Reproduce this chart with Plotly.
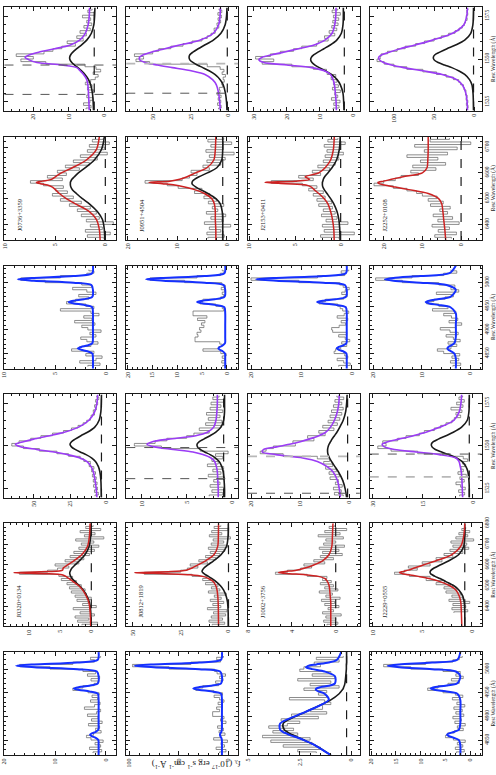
import plotly.graph_objects as go

# ---------------------------------------------------------------- wavelength grids
CIV_WAVE_FIT = [1520, 1525, 1530, 1535, 1538, 1541, 1543, 1545, 1546.5, 1548, 1549.5,
                1551, 1552.5, 1554, 1556, 1558, 1561, 1565, 1570, 1575, 1580]
CIV_WAVE_DATA = [1520.75, 1522.25, 1523.75, 1525.25, 1526.75, 1528.25, 1529.75, 1531.25,
                 1532.75, 1534.25, 1535.75, 1537.25, 1538.75, 1540.25, 1541.75, 1543.25,
                 1544.75, 1546.25, 1547.75, 1549.25, 1550.75, 1552.25, 1553.75, 1555.25,
                 1556.75, 1558.25, 1559.75, 1561.25, 1562.75, 1564.25, 1565.75, 1567.25,
                 1568.75, 1570.25, 1571.75, 1573.25, 1574.75, 1576.25, 1577.75, 1579.25]
HB_WAVE_FIT = [4818, 4840, 4850, 4855, 4858, 4861, 4864, 4867, 4872, 4885, 4910, 4935, 4948,
               4953, 4956, 4959, 4962, 4965, 4970, 4985, 4995, 5000, 5004, 5007, 5010, 5014,
               5020, 5036]
HB_WAVE_DATA = [4822.5, 4827.5, 4832.5, 4837.5, 4842.5, 4847.5, 4852.5, 4857.5, 4862.5,
                4867.5, 4872.5, 4877.5, 4882.5, 4887.5, 4892.5, 4897.5, 4902.5, 4907.5,
                4912.5, 4917.5, 4922.5, 4927.5, 4932.5, 4937.5, 4942.5, 4947.5, 4952.5,
                4957.5, 4962.5, 4967.5, 4972.5, 4977.5, 4982.5, 4987.5, 4992.5, 4997.5,
                5002.5, 5007.5, 5012.5, 5017.5, 5022.5, 5027.5]
HA_WAVE_FIT = [6305, 6380, 6420, 6450, 6480, 6500, 6520, 6535, 6545, 6553, 6558, 6563, 6568,
               6575, 6585, 6600, 6620, 6650, 6690, 6740, 6800]
HA1_WAVE_DATA = [6310, 6320, 6330, 6340, 6350, 6360, 6370, 6380, 6390, 6400, 6410, 6420, 6430,
                 6440, 6450, 6460, 6470, 6480, 6490, 6500, 6510, 6520, 6530, 6540, 6550, 6560,
                 6570, 6580, 6590, 6600, 6610, 6620, 6630, 6640, 6650, 6660, 6670, 6680, 6690,
                 6700, 6710, 6720, 6730, 6740, 6750, 6760, 6770, 6780, 6790]
HA2_WAVE_DATA = [6345, 6355, 6365, 6375, 6385, 6395, 6405, 6415, 6425, 6435, 6445, 6455, 6465,
                 6475, 6485, 6495, 6505, 6515, 6525, 6535, 6545, 6555, 6565, 6575, 6585, 6595,
                 6605, 6615, 6625, 6635, 6645, 6655, 6665, 6675, 6685, 6695, 6705, 6715, 6725,
                 6735]

# ---------------------------------------------------------------- C IV
J0736_CIV_FIT = [4.3, 4.4, 4.5, 4.7, 5.0, 5.9, 6.8, 7.8, 12, 19, 21.2, 22.3, 21, 18.5, 14, 9.8,
                 7.0, 5.4, 4.6, 4.3, 4.2]
J0736_CIV_BROAD = [3.1, 3.2, 3.4, 3.9, 4.5, 5.5, 6.4, 7.5, 8.4, 9.2, 9.7, 9.8, 9.5, 8.9, 7.8,
                   6.6, 5.0, 3.7, 3.0, 2.8, 2.7]
J0736_CIV_DATA = [5.2, 3.8, 5.9, 4.1, 3.2, 5.0, 4.6, 3.0, 4.8, 3.5, 5.4, 3.9, 2.6, 1.8, 3.2, 1.1,
                  2.4, 5.5, 16.5, 23.5, 20.0, 24.8, 17.0, 14.5, 12.0, 8.2, 10.5, 6.0, 7.8, 5.1,
                  6.9, 4.0, 5.8, 3.6, 5.0, 3.9, 6.2, 2.8, 4.7, 3.5]

J0951_CIV_FIT = [5.4, 5.8, 6.5, 8.0, 10.5, 15.5, 24, 37, 47, 55, 58.5, 58.7, 56, 51, 42, 33, 19,
                 10, 6.5, 5.6, 5.3]
J0951_CIV_BROAD = [1.0, 1.3, 2.0, 3.5, 5.5, 9, 12.5, 17, 20.5, 23.5, 25.5, 26, 25.5, 23.5, 20,
                   16, 10, 5, 2.2, 1.3, 1.0]
J0951_CIV_DATA = [6.5, 4.8, 7.2, 5.1, 6.8, 4.9, 7.5, 5.6, 6.0, 3.9, 4.5, 2.8, 3.5, 2.0, 4.2, 3.0,
                  5.5, 14, 52, 61, 56, 62, 50, 46, 38, 30, 24, 17.5, 14, 11.5, 8.8, 9.5, 6.4,
                  7.6, 5.2, 6.9, 4.6, 7.0, 4.4, 6.2]

J2153_CIV_FIT = [5.0, 5.1, 5.3, 5.6, 6.0, 6.8, 8.5, 12.5, 20, 27, 28.5, 27.5, 24.5, 21, 16.5, 12,
                 8.5, 6.3, 5.5, 5.2, 5.1]
J2153_CIV_BROAD = [2.7, 2.8, 3.0, 3.8, 4.8, 6.5, 8.2, 10.2, 11.5, 12.4, 12.8, 12.6, 11.8, 10.6,
                   8.8, 7.0, 4.9, 3.5, 3.0, 2.9, 2.9]
J2153_CIV_DATA = [6.0, 4.2, 5.8, 3.9, 6.5, 4.6, 5.5, 3.8, 6.2, 4.4, 5.9, 4.8, 6.6, 5.2, 7.8, 8.0,
                  12.0, 18.5, 27.5, 24.0, 29.5, 25.0, 22.0, 18.0, 15.5, 11.0, 10.5, 7.5, 8.6,
                  5.5, 7.2, 4.9, 6.4, 4.5, 6.1, 4.3, 5.9, 3.8, 6.3, 4.6]

J2252_CIV_FIT = [8.5, 9, 10.5, 15, 22, 40, 62, 88, 103, 113, 118, 119, 115, 106, 92, 75, 52, 27,
                 13, 9.5, 8.5]
J2252_CIV_BROAD = [1.0, 1.2, 1.6, 3, 6, 12, 19, 28, 37, 45, 50, 51, 49, 43, 34, 24, 12, 4.5,
                   1.8, 1.2, 1.0]
J2252_CIV_DATA = [9.5, 7.8, 9.9, 8.1, 10.2, 9.0, 11.0, 10.5, 12.8, 13.5, 17.0, 19.5, 26.0, 35.0,
                  47.0, 64.0, 84.0, 100.0, 112.0, 121.0, 117.0, 116.0, 108.0, 96.0, 86.0, 73.0,
                  62.0, 50.0, 41.0, 32.0, 24.0, 19.0, 15.0, 12.5, 11.0, 9.0, 10.0, 8.2, 9.4,
                  8.0]

J0320_CIV_FIT = [6.5, 7, 7.8, 9, 10.5, 13.5, 18, 27, 36, 48, 59, 62.5, 57, 50, 39, 29, 19, 12,
                 8, 6.5, 6.0]
J0320_CIV_BROAD = [3.5, 3.6, 3.8, 4.5, 5.5, 7.5, 10, 14, 18, 21.5, 24, 25, 24, 21.5, 17.5, 13,
                   8, 5, 3.8, 3.5, 3.4]
J0320_CIV_DATA = [7.8, 5.5, 8.2, 6.1, 8.8, 6.4, 9.0, 7.0, 9.6, 7.5, 10.2, 8.6, 11.8, 11.0, 15.5,
                  18.0, 26.0, 34.0, 46.0, 57.0, 65.0, 60.0, 52.0, 45.0, 37.0, 29.5, 24.0, 19.5,
                  16.0, 13.5, 11.0, 10.5, 8.2, 9.0, 6.9, 8.1, 6.0, 7.4, 5.2, 6.6]

J0812_CIV_FIT = [1.5, 1.5, 1.55, 1.6, 1.7, 1.9, 2.3, 3.2, 4.3, 6.5, 8.6, 9.4, 8.8, 7.0, 4.0, 2.7,
                 2.0, 1.75, 1.65, 1.6, 1.6]
J0812_CIV_BROAD = [0.8, 0.8, 0.85, 0.95, 1.1, 1.4, 1.8, 2.4, 3.0, 3.5, 3.8, 3.85, 3.6, 3.1, 2.4,
                   1.8, 1.2, 0.9, 0.8, 0.8, 0.8]
J0812_CIV_DATA = [2.5, 1.0, 2.2, 0.9, 2.4, 1.3, 2.0, 0.8, 2.6, 1.2, 2.1, 0.9, 2.7, 1.5, 2.2, 1.0,
                  1.8, 0.4, 3.5, 7.8, 10.8, 8.5, 7.2, 5.0, 4.2, 2.5, 3.6, 1.2, 2.9, 1.1, 2.6,
                  1.3, 2.8, 1.0, 2.4, 1.2, 2.3, 0.9, 2.1, 1.4]

J1002_CIV_FIT = [1.8, 2.0, 2.4, 3.3, 4.5, 6.5, 9.5, 15.0, 17.8, 17.5, 14.8, 12.2, 10.0, 8.2, 6.2,
                 4.8, 3.8, 3.0, 2.4, 2.1, 2.0]
J1002_CIV_BROAD = [0.5, 0.8, 1.3, 2.2, 2.9, 3.6, 4.0, 4.3, 4.4, 4.4, 4.3, 4.1, 3.8, 3.5, 3.0,
                   2.5, 1.9, 1.2, 0.7, 0.5, 0.4]
J1002_CIV_DATA = [1.2, 3.0, 1.6, 3.2, 1.4, 2.8, 2.2, 3.9, 2.0, 4.1, 2.6, 4.8, 3.4, 5.2, 4.0, 6.5,
                  13.5, 18.2, 17.0, 15.5, 11.0, 11.5, 7.2, 8.5, 4.9, 6.2, 3.1, 5.4, 2.4, 4.3,
                  1.9, 3.9, 1.5, 3.6, 1.2, 3.2, 1.5, 2.9, 1.1, 2.5]

J2229_CIV_FIT = [3.0, 3.1, 3.2, 3.4, 3.7, 4.1, 5.0, 10, 17, 23.5, 26.5, 27.2, 25.5, 22.2, 17.8,
                 14, 9.8, 5.6, 4.0, 3.5, 3.3]
J2229_CIV_BROAD = [1.0, 1.0, 1.1, 1.4, 2.0, 3.2, 4.8, 7.2, 9.3, 11.2, 12.2, 12.4, 11.8, 10.3,
                   8.0, 5.8, 3.3, 1.6, 1.1, 1.0, 1.0]
J2229_CIV_DATA = [3.9, 2.4, 4.2, 2.2, 3.6, 5.0, 2.5, 3.8, 1.9, 4.4, 2.8, 3.5, 2.1, 3.0, 1.5, 2.8,
                  7.0, 16.5, 24.5, 28.5, 26.0, 27.0, 22.5, 20.0, 16.0, 14.5, 11.5, 9.6, 8.0,
                  6.2, 5.5, 3.6, 5.0, 3.2, 6.5, 2.9, 4.8, 2.5, 4.1, 3.0]

# ---------------------------------------------------------------- H alpha
J0736_HA_FIT = [0.5, 0.6, 0.9, 1.6, 3.0, 3.9, 4.6, 5.0, 5.3, 5.8, 6.5, 6.9, 6.3, 5.4, 5.0, 4.4,
                3.3, 1.9, 0.9, 0.6, 0.5]
J0736_HA_BROAD = [0.05, 0.1, 0.3, 0.8, 1.6, 2.3, 2.9, 3.3, 3.45, 3.5, 3.5, 3.5, 3.45, 3.35, 3.1,
                  2.7, 2.0, 1.1, 0.4, 0.1, 0.05]
J0736_HA_DATA = [0.2, 1.8, -0.5, 2.0, 0.3, 1.5, -0.8, 1.9, 0.6, 2.4, 0.9, 2.8, 1.5, 3.6, 2.4,
                 4.5, 3.2, 5.3, 3.8, 5.0, 4.2, 6.2, 7.5, 4.3, 5.8, 3.9, 4.8, 2.6, 4.0, 1.6, 3.2,
                 0.8, 2.5, -0.2, 1.8, 0.1, 1.6, -0.4, 1.3, 0.2]

J0951_HA_FIT = [2.2, 2.2, 2.3, 2.3, 2.5, 3.0, 4.5, 6.5, 8.5, 10.5, 13.0, 15.7, 11.5, 9.5, 8.0,
                6.3, 4.0, 2.6, 2.3, 2.2, 2.2]
J0951_HA_BROAD = [0.8, 0.8, 0.8, 0.9, 1.3, 2.2, 3.8, 5.3, 6.2, 6.8, 7.0, 7.0, 6.9, 6.5, 5.6,
                  3.9, 2.0, 1.0, 0.8, 0.8, 0.8]
J0951_HA_DATA = [3.8, 0.5, 4.0, 1.2, 3.5, -0.8, 4.5, 1.0, 3.2, 0.2, 4.1, 1.8, 2.9, 0.6, 3.7, 2.0,
                 4.6, 3.4, 6.5, 5.0, 9.8, 12.0, 16.5, 9.0, 7.5, 6.0, 7.2, 3.5, 4.8, 1.2, 4.0,
                 0.3, 3.5, -1.5, 4.2, 0.8, 3.2, -1.0, 3.8, 0.6]

J2153_HA_FIT = [0.7, 0.75, 0.9, 1.1, 1.4, 1.8, 2.4, 2.9, 3.2, 3.8, 6.0, 8.3, 5.0, 3.4, 3.9, 2.4,
                1.7, 1.1, 0.8, 0.7, 0.7]
J2153_HA_BROAD = [0.05, 0.1, 0.2, 0.4, 0.75, 1.1, 1.5, 1.8, 1.95, 2.0, 2.0, 2.0, 1.95, 1.9,
                  1.75, 1.4, 0.95, 0.45, 0.15, 0.05, 0.05]
J2153_HA_DATA = [0.2, 2.2, -1.5, 1.8, 0.1, 2.0, -0.8, 1.6, 0.4, 2.1, 0.6, 1.9, 0.9, 2.4, 1.0,
                 2.6, 1.7, 3.0, 1.9, 3.5, 2.6, 4.2, 7.6, 3.0, 4.6, 2.2, 3.1, 1.2, 2.5, 0.6, 1.9,
                 0.2, 1.7, -0.3, 1.5, 0.1, 1.8, -0.5, 1.4, 0.3]

J2252_HA_FIT = [3.8, 4.2, 4.5, 4.7, 5.0, 5.8, 8.5, 13.5, 17.0, 19.8, 21.2, 21.5, 20.0, 18.0, 15.0,
                10.0, 8.8, 8.6, 8.5, 8.5, 8.5]
J2252_HA_DATA = [2.5, 6.8, 1.2, 5.9, 3.0, 7.5, 0.5, 6.0, 2.2, 7.2, 3.5, 5.5, 2.8, 7.9, 4.6, 8.5,
                 6.2, 10.0, 11.5, 14.0, 17.5, 22.5, 20.0, 17.0, 15.5, 11.0, 13.0, 6.5, 12.5, 4.0,
                 10.5, 6.0, 14.0, 3.5, 9.5, 1.0, 12.0, -2.5, 8.0, 3.0]

J0320_HA_FIT = [0.1, 0.2, 0.4, 0.8, 1.4, 2.0, 2.9, 3.6, 4.1, 4.7, 7.5, 12.4, 7.0, 4.6, 4.5, 3.8,
                2.8, 1.5, 0.6, 0.3, 0.2]
J0320_HA_BROAD = [0.05, 0.1, 0.3, 0.7, 1.3, 1.9, 2.6, 3.1, 3.3, 3.4, 3.45, 3.45, 3.4, 3.3, 3.1,
                  2.6, 1.9, 1.0, 0.35, 0.1, 0.05]
J0320_HA_DATA = [1.5, -1.0, 2.2, 0.4, 2.6, -0.5, 1.8, 0.2, 2.9, -0.8, 1.4, 0.5, 2.3, 0.0, 2.6,
                 0.8, 3.2, 1.0, 3.5, 1.6, 3.9, 2.4, 4.8, 3.0, 5.2, 11.5, 7.0, 5.4, 3.6, 5.8, 2.0,
                 4.2, 1.2, 3.4, 0.3, 2.8, -0.5, 2.0, -1.2, 1.6, -0.4, 2.5, -2.0, 1.1, -0.6, 1.8,
                 -1.5, 0.9, -0.3]

J0812_HA_FIT = [5.2, 5.3, 5.4, 5.6, 6.0, 6.6, 8.0, 10.5, 13.5, 20, 33, 49, 30, 22, 19, 16, 12,
                7.5, 5.6, 5.3, 5.2]
J0812_HA_BROAD = [0.1, 0.2, 0.5, 1.2, 2.6, 4.2, 6.5, 8.8, 10.5, 12.0, 12.8, 13.4, 13.8, 13.6,
                  12.8, 10.8, 7.8, 3.8, 1.0, 0.2, 0.1]
J0812_HA_DATA = [8.5, 2.0, 10.2, 3.1, 9.0, 1.5, 7.8, 0.8, 11.0, 4.0, 8.2, 2.5, 9.5, 3.8, 7.4,
                 1.2, 10.5, 4.5, 8.9, 5.5, 12.0, 7.0, 13.5, 11.5, 19.0, 44.0, 25.0, 21.5, 16.0,
                 20.0, 11.0, 15.5, 6.5, 12.0, 4.5, 9.5, 2.0, 10.5, 0.5, 9.0, 2.5, 8.0, -1.0,
                 10.0, 3.5, 8.8, 0.2, 7.5, 4.0]

J1002_HA_FIT = [0.45, 0.45, 0.45, 0.5, 0.55, 0.6, 0.75, 1.0, 1.6, 2.8, 4.2, 5.2, 4.6, 3.6, 2.8,
                2.0, 1.2, 0.6, 0.35, 0.3, 0.25]
J1002_HA_DATA = [0.8, -0.2, 1.1, 0.0, 0.9, -0.5, 1.2, 0.2, 0.7, -0.3, 1.0, 0.1, 1.3, -0.4, 0.9,
                 0.3, 1.5, -0.2, 1.0, 0.2, 1.4, 0.4, 1.2, 0.8, 2.6, 5.5, 4.4, 3.2, 2.2, 2.9, 1.0,
                 2.0, 0.2, 1.4, -0.6, 1.2, -0.3, 1.5, -0.8, 1.1, 0.0, 0.9, -0.7, 1.6, -0.4, 1.0,
                 -1.0, 0.6, 0.1]

J2229_HA_FIT = [1.0, 1.05, 1.1, 1.25, 1.6, 2.2, 3.2, 4.3, 5.4, 6.4, 7.0, 7.3, 7.0, 6.4, 5.8, 4.9,
                3.6, 2.0, 1.1, 0.8, 0.7]
J2229_HA_BROAD = [0.7, 0.7, 0.75, 0.9, 1.3, 1.8, 2.6, 3.2, 3.7, 4.0, 4.15, 4.2, 4.2, 4.1, 3.8,
                  3.2, 2.3, 1.3, 0.8, 0.7, 0.7]
J2229_HA_DATA = [None, None, None, None, None, None, 1.8, 0.4, 2.0, 0.6, 1.9, 0.2, 2.3, 0.9, 2.0,
                 1.1, 2.6, 1.5, 2.8, 1.9, 3.6, 2.7, 4.6, 4.2, 6.3, 7.8, 6.8, 5.5, 6.4, 4.2, 5.0,
                 3.0, 3.6, 1.9, 2.8, 0.9, 2.2, 0.3, 1.9, 0.5, 2.1, -0.2, 1.6, 0.4, 1.3, 0.2, 1.0,
                 0.6, None]

# ---------------------------------------------------------------- H beta + [O III]
J0736_HB_FIT = [1.3, 1.3, 1.35, 1.85, 2.45, 2.8, 2.45, 1.85, 1.35, 1.3, 1.3, 1.3, 1.37, 2.19,
                3.17, 3.7, 3.17, 2.19, 1.37, 1.3, 1.45, 3.2, 7.1, 8.7, 7.1, 3.2, 1.37, 1.3]
J0736_HB_DATA = [1.8, 0.6, 2.6, 1.0, 0.4, 2.0, 1.2, 3.4, 2.6, 1.5, 0.8, 1.9, 2.5, 1.0, 1.6, 0.5,
                 1.8, 2.4, 1.1, 3.1, 1.4, 2.2, 0.7, 1.5, 4.5, 1.2, 2.0, 3.9, 3.0, 1.7, 2.7, 1.0,
                 1.9, 3.3, 1.4, 2.4, 6.0, 8.4, 4.5, 1.9, 1.2, 1.7]

J0951_HB_FIT = [0.3, 0.3, 0.34, 0.82, 1.39, 1.7, 1.39, 0.82, 0.34, 0.3, 0.3, 0.3, 0.47, 2.41,
                4.75, 6.0, 4.75, 2.41, 0.47, 0.3, 0.62, 4.46, 12.8, 16.3, 12.8, 4.46, 0.46, 0.3]
J0951_HB_DATA = [0.8, 0.2, 1.0, 0.4, 0.9, 0.1, 1.2, 4.8, 1.6, 0.9, 1.4, 6.4, 6.4, 5.8, 6.0, 5.2,
                 5.5, 4.6, 5.1, 4.4, 5.9, 4.0, 6.8, 6.8, 0.6, 0.9, 2.2, 5.4, 4.8, 1.2, 0.6, 0.9,
                 0.4, 1.1, 0.3, 1.0, 8.5, 15.5, 6.0, 1.3, 0.5, 0.9]

J2153_HB_FIT = [1.0, 1.0, 1.06, 1.74, 2.56, 3.0, 2.56, 1.74, 1.06, 1.0, 1.0, 1.0, 1.18, 3.18,
                5.6, 6.9, 5.6, 3.18, 1.18, 1.0, 1.36, 5.68, 15.0, 19.0, 15.0, 5.68, 1.18, 1.0]
J2153_HB_DATA = [2.6, 0.3, 1.6, 2.9, 0.8, 1.4, 3.5, 3.2, 2.2, 1.0, 2.0, 0.4, 1.3, 2.6, 1.0, 3.8,
                 4.0, 2.5, 1.2, 2.1, 0.8, 2.9, 1.5, 0.6, 1.8, 2.3, 2.8, 6.5, 5.2, 1.6, 0.9, 2.0,
                 1.3, 0.5, 1.7, 2.4, 10.5, 20.0, 6.8, 1.4, 2.1, 0.6]

J2252_HB_FIT = [3.0, 3.0, 3.3, 4.05, 4.54, 4.75, 4.54, 4.05, 3.3, 3.0, 3.0, 3.0, 4.1, 6.7, 8.46,
                9.2, 8.46, 6.7, 4.1, 3.0, 4.9, 10.3, 15.85, 17.6, 15.85, 10.3, 4.3, 3.0]
J2252_HB_DATA = [3.6, 2.0, 4.1, 2.4, 3.8, 2.2, 5.5, 6.8, 4.0, 2.8, 4.6, 2.1, 3.5, 5.0, 2.5, 4.2,
                 6.2, 3.0, 1.8, 4.4, 2.6, 3.9, 5.5, 3.0, 7.8, 4.6, 6.5, 9.0, 7.5, 5.2, 3.5, 7.0,
                 2.4, 4.0, 3.2, 6.5, 14.0, 19.5, 12.0, 5.5, 2.8, 4.0]

J0320_HB_FIT = [1.4, 1.4, 1.45, 2.03, 2.73, 3.1, 2.73, 2.03, 1.45, 1.4, 1.4, 1.4, 1.55, 3.21,
                5.22, 6.3, 5.22, 3.21, 1.55, 1.4, 1.73, 5.64, 14.1, 17.7, 14.1, 5.64, 1.56, 1.4]
J0320_HB_DATA = [2.5, 0.8, 3.2, 1.0, 2.1, 0.5, 2.9, 3.8, 2.4, 0.9, 2.0, 1.2, 3.4, 0.7, 2.8, 1.5,
                 3.6, 1.8, 1.0, 4.2, 2.2, 1.1, 3.0, 1.6, 2.7, 1.3, 3.5, 6.5, 4.5, 2.3, 1.5, 2.9,
                 1.2, 3.6, 2.0, 4.5, 11.0, 17.0, 6.5, 2.2, 3.0, 1.0]

J0812_HB_FIT = [6.6, 6.6, 6.66, 7.34, 8.16, 8.6, 8.16, 7.34, 6.66, 6.6, 6.6, 6.6, 7.47, 17.3,
                29.2, 35.6, 29.2, 17.3, 7.47, 6.6, 8.4, 29.6, 75.6, 95.0, 75.6, 29.6, 7.5, 6.6]
J0812_HB_DATA = [9.0, 2.5, 12.5, 4.0, 7.5, 1.0, 15.0, 8.0, 3.5, 9.5, 5.0, 11.0, 6.5, 2.5, 8.0,
                 4.5, 16.0, 16.0, 9.0, 12.0, 7.0, 10.5, 4.5, 9.0, 14.5, 6.0, 15.0, 33.0, 26.0,
                 10.0, 13.0, 5.5, 9.0, 3.0, 11.5, 14.0, 60.0, 97.0, 38.0, 8.0, 12.0, 5.0]

J1002_HB_FIT = [1.0, 1.8, 2.3, 2.6, 2.8, 3.0, 3.15, 3.3, 3.45, 3.45, 2.2, 1.1, 1.3, 1.6, 1.72,
                1.7, 1.5, 1.1, 0.8, 0.8, 1.3, 1.9, 2.2, 2.1, 1.7, 1.1, 0.7, 0.5]
J1002_HB_BROAD = [1.0, 1.8, 2.3, 2.55, 2.7, 2.85, 3.0, 3.1, 3.25, 3.3, 2.2, 1.0, 0.6, 0.5, 0.45,
                  0.4, 0.38, 0.35, 0.32, 0.28, 0.26, 0.25, 0.25, 0.25, 0.25, 0.24, 0.24, 0.24]
J1002_HB_DATA = [1.7, 2.6, 1.5, 3.3, 1.9, 3.9, 2.0, 4.3, 2.6, 3.8, 2.8, 4.0, 3.1, 2.5, 3.4, 1.6,
                 2.9, 1.2, 2.0, 1.4, 1.4, 1.0, 1.3, 3.0, 1.2, 1.6, 1.2, 2.3, 0.6, 2.0, 1.0, 2.6,
                 0.8, 1.9, 1.0, 2.5, 2.3, 1.5, 1.8, 0.6, 1.7, 0.4]

J2229_HB_FIT = [2.0, 2.0, 2.27, 3.35, 4.27, 4.7, 4.27, 3.35, 2.27, 2.0, 2.0, 2.0, 2.6, 5.0, 7.04,
                8.0, 7.04, 5.0, 2.6, 2.0, 2.9, 7.7, 14.35, 16.7, 14.35, 7.7, 2.6, 2.0]
J2229_HB_DATA = [2.8, 1.2, 3.0, 1.5, 2.6, 1.0, 3.4, 5.0, 4.6, 3.2, 1.4, 2.6, 1.0, 3.1, 1.8, 3.5,
                 1.3, 2.9, 1.6, 3.3, 1.1, 2.7, 2.0, 3.6, 1.5, 3.0, 5.5, 8.6, 6.5, 4.5, 2.2, 3.8,
                 1.4, 2.9, 2.0, 5.5, 12.0, 17.5, 9.0, 3.5, 2.2, 1.6]

# ---------------------------------------------------------------- panel setup
W, H = 496, 775
COL_LEFT = [1.5, 124, 246.5, 369]
PANEL_W = 112.5
ROW_TOP = {6: 0.5, 5: 131, 4: 261, 3: 391, 2: 521, 1: 651}
PANEL_H = 104

GREY = "#6e6e6e"
INK = "#1a1a1a"
FONT = "Liberation Serif"

KINDS = {
    "civ": dict(fit_wave=CIV_WAVE_FIT, data_wave=CIV_WAVE_DATA, yrange=[1520, 1580],
                dtick=25, minor=5, color="#9b3cf5", width=1.6),
    "ha1": dict(fit_wave=HA_WAVE_FIT, data_wave=HA1_WAVE_DATA, yrange=[6305, 6800],
                dtick=100, minor=20, color="#cc2222", width=1.5),
    "ha2": dict(fit_wave=HA_WAVE_FIT, data_wave=HA2_WAVE_DATA, yrange=[6340, 6740],
                dtick=100, minor=20, color="#cc2222", width=1.5),
    "hb": dict(fit_wave=HB_WAVE_FIT, data_wave=HB_WAVE_DATA, yrange=[4818, 5036],
               dtick=50, minor=10, color="#1530ff", width=2.0),
}

# col, row, kind, label, fit, broad, data, continuum, flux range, major, minor, marker lines
PANELS = [
    (0, 6, "civ", None, J0736_CIV_FIT, J0736_CIV_BROAD, J0736_CIV_DATA, 2.9, (-3.3, 28.1), 10, 2,
     [(1546.5, "dark"), (1529.4, "dark")]),
    (0, 5, "ha2", "J0736+3359", J0736_HA_FIT, J0736_HA_BROAD, J0736_HA_DATA, 0.0, (-1.1, 10.1), 5, 1, []),
    (0, 4, "hb", None, J0736_HB_FIT, None, J0736_HB_DATA, None, (-1.0, 10.0), 5, 1, []),
    (0, 3, "civ", None, J0320_CIV_FIT, J0320_CIV_BROAD, J0320_CIV_DATA, 3.4, (-6.8, 70), 25, 5, []),
    (0, 2, "ha1", "J0320+0134", J0320_HA_FIT, J0320_HA_BROAD, J0320_HA_DATA, 0.0, (-4.0, 13.9), 5, 1, []),
    (0, 1, "hb", None, J0320_HB_FIT, None, J0320_HB_DATA, None, (-2.1, 20.0), 10, 2, []),

    (1, 6, "civ", None, J0951_CIV_FIT, J0951_CIV_BROAD, J0951_CIV_DATA, 0.8, (-6.3, 67.4), 25, 5,
     [(1547.3, "light"), (1530.1, "dark")]),
    (1, 5, "ha2", "J0951+4504", J0951_HA_FIT, J0951_HA_BROAD, J0951_HA_DATA, 0.8, (-2.3, 20.3), 10, 2, []),
    (1, 4, "hb", None, J0951_HB_FIT, None, J0951_HB_DATA, None, (-2.3, 20.3), 5, 1, []),
    (1, 3, "civ", None, J0812_CIV_FIT, J0812_CIV_BROAD, J0812_CIV_DATA, 0.9, (-0.7, 11.7), 5, 1,
     [(1549.1, "dark"), (1531.0, "dark")]),
    (1, 2, "ha1", "J0812+1819", J0812_HA_FIT, J0812_HA_BROAD, J0812_HA_DATA, 0.0, (-5.0, 53.4), 25, 5, []),
    (1, 1, "hb", None, J0812_HB_FIT, None, J0812_HB_DATA, None, (-9.7, 103.3), 50, 10, []),

    (2, 6, "civ", None, J2153_CIV_FIT, J2153_CIV_BROAD, J2153_CIV_DATA, 2.6, (-2.1, 31.8), 10, 2, []),
    (2, 5, "ha2", "J2153+0411", J2153_HA_FIT, J2153_HA_BROAD, J2153_HA_DATA, 0.0, (-2.1, 10.15), 5, 1, []),
    (2, 4, "hb", None, J2153_HB_FIT, None, J2153_HB_DATA, None, (-1.6, 20.6), 10, 2, []),
    (2, 3, "civ", None, J1002_CIV_FIT, J1002_CIV_BROAD, J1002_CIV_DATA, 0.3, (-2.2, 20.7), 10, 2,
     [(1544.0, "light"), (1522.5, "dark")]),
    (2, 2, "ha1", "J1002+3756", J1002_HA_FIT, None, J1002_HA_DATA, 0.0, (-2.2, 8.0), 4, 1, []),
    (2, 1, "hb", None, J1002_HB_FIT, J1002_HB_BROAD, J1002_HB_DATA, 0.24, (-0.4, 5.0), 2.5, 0.5, []),

    (3, 6, "civ", None, J2252_CIV_FIT, J2252_CIV_BROAD, J2252_CIV_DATA, 1.0, (-9.0, 130), 50, 10, []),
    (3, 5, "ha2", "J2252+0108", J2252_HA_FIT, None, J2252_HA_DATA, 0.0, (-5.3, 23.6), 10, 2, []),
    (3, 4, "hb", None, J2252_HB_FIT, None, J2252_HB_DATA, None, (-2.3, 20.7), 10, 2, []),
    (3, 3, "civ", None, J2229_CIV_FIT, J2229_CIV_BROAD, J2229_CIV_DATA, 1.0, (-2.7, 30.9), 15, 5,
     [(1545.3, "dark"), (1532.0, "light")]),
    (3, 2, "ha1", "J2229+0555", J2229_HA_FIT, J2229_HA_BROAD, J2229_HA_DATA, 0.7, (-1.0, 10.3), 5, 1, []),
    (3, 1, "hb", None, J2229_HB_FIT, None, J2229_HB_DATA, None, (-2.3, 20.3), 5, 1, []),
]

fig = go.Figure()
layout = {}
shapes = []
annotations = []

for i, (col, row, kind, label, fit, broad, data, cont, frange, fdt, fminor, marks) in enumerate(PANELS, start=1):
    k = KINDS[kind]
    suffix = "" if i == 1 else str(i)
    xa, ya = "x" + suffix, "y" + suffix
    common = dict(xaxis=xa, yaxis=ya, mode="lines", hoverinfo="skip", showlegend=False)

    # observed spectrum (histogram style along wavelength)
    fig.add_trace(go.Scatter(x=data, y=k["data_wave"], line=dict(color=GREY, width=0.8, shape="vhv"), **common))
    if cont is not None:
        fig.add_trace(go.Scatter(x=[cont, cont], y=k["yrange"], line=dict(color=INK, width=1.2, dash="dash"), **common))
    if broad is not None:
        fig.add_trace(go.Scatter(x=broad, y=k["fit_wave"], line=dict(color=INK, width=1.6, shape="spline", smoothing=0.8), **common))
    fig.add_trace(go.Scatter(x=fit, y=k["fit_wave"], line=dict(color=k["color"], width=k["width"], shape="spline", smoothing=0.8), **common))

    x0 = COL_LEFT[col] / W
    x1 = (COL_LEFT[col] + PANEL_W) / W
    y1 = 1 - ROW_TOP[row] / H
    y0 = 1 - (ROW_TOP[row] + PANEL_H) / H
    axis_style = dict(showline=True, linecolor=INK, linewidth=0.8, mirror="ticks", ticks="inside",
                      ticklen=4, tickwidth=0.7, tickcolor=INK, showgrid=False, zeroline=False,
                      tickangle=-90)
    layout["xaxis" + suffix] = dict(
        domain=[x0, x1], anchor=ya, range=[frange[1], frange[0]], tick0=0, dtick=fdt,
        minor=dict(ticks="inside", ticklen=2, tickcolor=INK, dtick=fminor, tick0=0),
        tickfont=dict(family=FONT, size=6, color=INK), ticklabelstandoff=0, **axis_style)
    layout["yaxis" + suffix] = dict(
        domain=[y0, y1], anchor=xa, range=k["yrange"], tick0=0, dtick=k["dtick"], side="right",
        minor=dict(ticks="inside", ticklen=2, tickcolor=INK, dtick=k["minor"], tick0=0),
        tickfont=dict(family=FONT, size=5.5, color=INK),
        showticklabels=(col == 3), ticklabelstandoff=0, **axis_style)

    for wave, tone in marks:
        shapes.append(dict(type="line", xref=f"{xa} domain", yref=ya, x0=0, x1=1, y0=wave, y1=wave,
                           line=dict(color="#555555" if tone == "dark" else "#b8b8b8",
                                     width=1.0 if tone == "dark" else 1.8, dash="dash")))
    if label:
        annotations.append(dict(text=label, xref=f"{xa} domain", yref=f"{ya} domain", x=0.13, y=0.24,
                                textangle=-90, showarrow=False, xanchor="center", yanchor="middle",
                                font=dict(family=FONT, size=6.5, color=INK)))
    if col == 3:
        annotations.append(dict(text="Rest Wavelength (Å)", xref="paper", yref="paper",
                                x=492.9 / W, y=(y0 + y1) / 2, textangle=-90, showarrow=False,
                                xanchor="center", yanchor="middle", borderpad=0,
                                font=dict(family=FONT, size=5.5, color=INK)))

annotations.append(dict(
    text="f<sub>λ</sub> (10<sup>-17</sup> erg s<sup>-1</sup> cm<sup>-1</sup> Å<sup>-1</sup>)",
    xref="paper", yref="paper", x=194 / W, y=1 - 765 / H, textangle=180, showarrow=False,
    xanchor="center", yanchor="middle", font=dict(family=FONT, size=9, color=INK)))

fig.update_layout(
    width=W, height=H, margin=dict(l=0, r=0, t=0, b=0, pad=0),
    paper_bgcolor="white", plot_bgcolor="white",
    shapes=shapes, annotations=annotations, **layout,
)
# page body margin would push the fixed-size figure off the window edge
fig.write_html("out.html", config={"displayModeBar": False},
               post_script="document.body.style.margin='0';")
